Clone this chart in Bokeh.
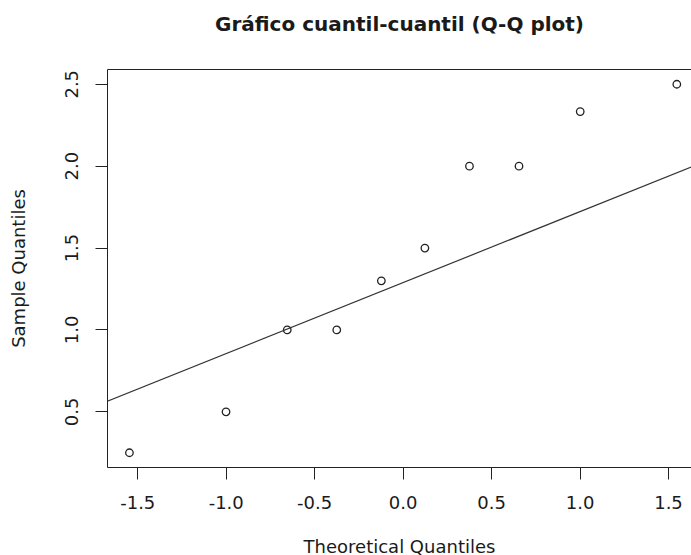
from bokeh.plotting import figure
from bokeh.models import Range1d, LinearAxis, FixedTicker, PrintfTickFormatter, Slope
from bokeh.embed import file_html
from bokeh.resources import INLINE

# ---- data ----
theoretical = [-1.547, -1.001, -0.655, -0.375, -0.123, 0.123, 0.375, 0.655, 1.001, 1.547]
sample = [0.25, 0.5, 1.0, 1.0, 1.3, 1.5, 2.0, 2.0, 2.333, 2.5]
line_intercept = 1.289
line_slope = 0.4335
x_ticks = [-1.5, -1.0, -0.5, 0.0, 0.5, 1.0, 1.5]
y_ticks = [0.5, 1.0, 1.5, 2.0, 2.5]
title_text = "Gráfico cuantil-cuantil (Q-Q plot)"
x_label = "Theoretical Quantiles"
y_label = "Sample Quantiles"

FONT = "DejaVu Sans"
TXT = "#1a1a1a"
LINE = "#222222"

p = figure(
    frame_width=584, frame_height=398,
    x_range=Range1d(-1.671, 1.630), y_range=Range1d(0.16, 2.59),
    output_backend="svg", toolbar_location=None,
    min_border_left=107, min_border_right=0, min_border_top=69, min_border_bottom=86,
)
p.outline_line_color = None
p.xgrid.visible = False
p.ygrid.visible = False
p.background_fill_color = "white"
p.border_fill_color = "white"

for ax in (p.xaxis[0], p.yaxis[0]):
    ax.formatter = PrintfTickFormatter(format="%.1f")
    ax.major_tick_out = 12
    ax.major_tick_in = 0
    ax.minor_tick_out = 0
    ax.minor_tick_in = 0
    ax.axis_line_color = LINE
    ax.major_tick_line_color = LINE
    ax.major_label_text_font = FONT
    ax.major_label_text_font_size = "18px"
    ax.major_label_text_color = TXT
    ax.axis_label_text_font = FONT
    ax.axis_label_text_font_size = "18px"
    ax.axis_label_text_font_style = "normal"
    ax.axis_label_text_color = TXT

p.xaxis[0].ticker = FixedTicker(ticks=x_ticks)
p.xaxis[0].major_label_standoff = 16
p.xaxis[0].axis_label = x_label
p.xaxis[0].axis_label_standoff = 24
p.xaxis[0].axis_label_text_line_height = 1.0

p.yaxis[0].ticker = FixedTicker(ticks=y_ticks)
p.yaxis[0].axis_label = y_label
p.yaxis[0].major_label_orientation = "vertical"
p.yaxis[0].major_label_standoff = 17
p.yaxis[0].axis_label_standoff = 34

# top box edge, carrying the chart title as its label
top = LinearAxis(ticker=FixedTicker(ticks=[]), major_tick_out=0, major_tick_in=0,
                 minor_tick_out=0, minor_tick_in=0, major_label_text_font_size="0px",
                 major_label_standoff=0, axis_line_color=LINE,
                 axis_label=title_text, axis_label_standoff=34,
                 axis_label_text_font=FONT, axis_label_text_font_size="20px",
                 axis_label_text_font_style="bold", axis_label_text_color=TXT)
p.add_layout(top, "above")

p.add_layout(Slope(gradient=line_slope, y_intercept=line_intercept,
                   line_color="#333333", line_width=1.2))

p.scatter(theoretical, sample, marker="circle", size=7.5, fill_color=None,
          line_color=LINE, line_width=1.3)

open("out.html", "w").write(file_html(p, INLINE))
